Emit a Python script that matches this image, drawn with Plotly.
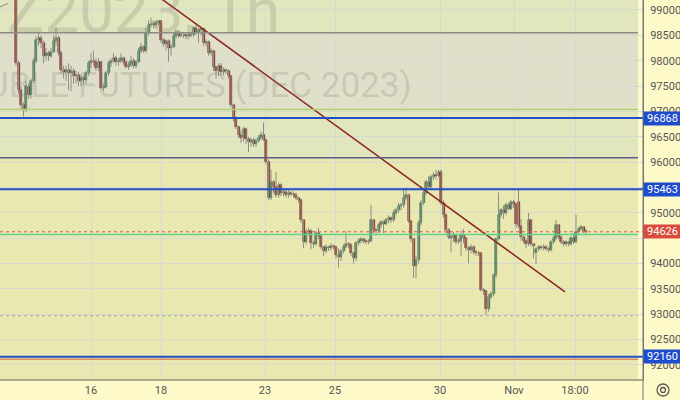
import plotly.graph_objects as go

# ---------------- data (hourly candles) ----------------
opens = [100300, 97950, 97430, 97130, 97050, 97480, 97330, 97600, 98000, 98400,
         98450, 98350, 98100, 98150, 98100, 98180, 98380, 98450, 98150, 97820,
         97780, 97820, 97750, 97800, 97700, 97720, 97600, 97650, 97620, 97750,
         97950, 98000, 97980, 97850, 97980, 97470, 97480, 97750, 97950, 98000,
         98050, 97980, 98000, 98050, 97980, 97880, 97920, 98000, 97900, 97980,
         98200, 98280, 98200, 98550, 98700, 98720, 98700, 98740, 98780, 98400,
         98330, 98380, 98250, 98280, 98480, 98570, 98490, 98510, 98500, 98490,
         98510, 98500, 98640, 98560, 98600, 98620, 98350, 98370, 98160, 98200,
         97870, 97800, 97900, 97780, 97820, 97790, 97700, 97130, 96870, 96700,
         96530, 96480, 96650, 96450, 96400, 96430, 96350, 96420, 96480, 96530,
         96440, 96000, 95300, 95600, 95500, 95350, 95550, 95400, 95420, 95350,
         95400, 95380, 95350, 95300, 95250, 94850, 94420, 94620, 94650, 94400,
         94380, 94600, 94550, 94330, 94250, 94330, 94300, 94350, 94330, 94170,
         94120, 94250, 94330, 94380, 94360, 94200, 94100, 94400, 94450, 94480,
         94440, 94420, 94450, 94860, 94660, 94650, 94760, 94820, 94780, 94860,
         94900, 94850, 95000, 95060, 95130, 95150, 95300, 95350, 94830, 94480,
         93950, 94070, 94800, 95200, 95400, 95600, 95500, 95700, 95750, 95720,
         95800, 95200, 94950, 94660, 94530, 94500, 94560, 94430, 94450, 94560,
         94500, 94300, 94270, 94330, 94220, 94200, 94210, 93480, 93450, 93100,
         93350, 93400, 93770, 94480, 94950, 95050, 95000, 95150, 95080, 95220,
         95180, 95220, 94750, 94520, 94450, 94380, 94850, 94380, 94200, 94280,
         94320, 94300, 94330, 94290, 94260, 94420, 94500, 94760, 94520, 94420,
         94380, 94420, 94380, 94500, 94420, 94620, 94680, 94720, 94640]

highs = [100450, 98000, 97500, 97180, 97600, 97550, 97650, 98050, 98480, 98550,
         98500, 98400, 98250, 98200, 98250, 98500, 98650, 98500, 98200, 97900,
         97900, 97950, 97900, 97850, 97800, 97780, 97720, 97700, 97800, 98000,
         98150, 98200, 98050, 98050, 98000, 97550, 97800, 98000, 98050, 98150,
         98100, 98050, 98150, 98080, 98000, 97980, 98100, 98050, 98020, 98250,
         98350, 98300, 98650, 98800, 98850, 98780, 98800, 98800, 98800, 98450,
         98420, 98420, 98330, 98550, 98620, 98600, 98560, 98550, 98540, 98550,
         98560, 98680, 98700, 98650, 98650, 98650, 98420, 98400, 98250, 98220,
         97900, 97950, 97950, 97870, 97850, 97830, 97720, 97150, 96900, 96720,
         96620, 96700, 96680, 96500, 96480, 96480, 96470, 96530, 96600, 96780,
         96460, 96050, 95850, 95650, 95810, 95600, 95580, 95450, 95450, 95450,
         95430, 95420, 95400, 95320, 95280, 94880, 94680, 94700, 94680, 94450,
         94650, 94700, 94580, 94350, 94380, 94350, 94400, 94380, 94350, 94300,
         94280, 94380, 94640, 94420, 94400, 94230, 94450, 94500, 94520, 94500,
         94470, 94480, 95160, 94880, 94700, 94800, 94860, 94850, 94900, 94950,
         94930, 95050, 95100, 95200, 95200, 95480, 95500, 95380, 94860, 94500,
         94150, 94850, 95250, 95450, 95650, 95720, 95750, 95800, 95850, 95850,
         95850, 95250, 94980, 94700, 94600, 94620, 94580, 94500, 94650, 94680,
         94520, 94350, 94380, 94360, 94260, 94250, 94230, 93520, 93480, 93400,
         93450, 93800, 94520, 95400, 95100, 95150, 95200, 95200, 95250, 95260,
         95200, 95450, 94880, 94560, 94480, 95000, 94870, 94400, 94320, 94360,
         94360, 94380, 94370, 94320, 94460, 94550, 94860, 94780, 94560, 94460,
         94460, 94450, 94540, 94600, 94960, 94720, 94760, 94740, 94680]

lows = [97900, 97350, 97050, 96900, 96980, 97250, 97250, 97550, 97950, 98300,
        98250, 97950, 98000, 98000, 98050, 98150, 98300, 98100, 97750, 97650,
        97600, 97420, 97400, 97550, 97550, 97500, 97500, 97520, 97550, 97700,
        97850, 97900, 97800, 97800, 97450, 97400, 97450, 97700, 97880, 97950,
        97900, 97900, 97950, 97920, 97850, 97820, 97880, 97850, 97850, 97950,
        98150, 98150, 98150, 98500, 98650, 98640, 98660, 98700, 98350, 98280,
        98200, 97980, 98100, 98250, 98430, 98450, 98460, 98450, 98450, 98460,
        98470, 98470, 98520, 98350, 98500, 98300, 98280, 98100, 98100, 97800,
        97650, 97700, 97700, 97720, 97740, 97650, 97080, 96800, 96650, 96480,
        96380, 96400, 96350, 96200, 96300, 96300, 96300, 96380, 96450, 96420,
        95950, 95250, 95250, 95400, 95300, 95300, 95330, 95330, 95300, 95300,
        95330, 95300, 95250, 95200, 94800, 94300, 94380, 94550, 94280, 94300,
        94350, 94480, 94280, 94150, 94200, 94250, 94250, 94280, 94100, 93920,
        94050, 94200, 94300, 94300, 94150, 94000, 94050, 94350, 94400, 94400,
        94380, 94380, 94420, 94600, 94560, 94600, 94700, 94600, 94750, 94800,
        94800, 94820, 94950, 95000, 95050, 95100, 95250, 94800, 94420, 93720,
        93700, 94000, 94750, 95150, 95350, 95450, 95480, 95650, 95650, 95700,
        95150, 94900, 94600, 94480, 94220, 94420, 94380, 94380, 94150, 94400,
        94250, 94000, 94200, 94180, 94150, 94150, 93450, 93380, 92990, 93050,
        93300, 93350, 93720, 94450, 94900, 94880, 94950, 95050, 95050, 95100,
        94700, 94700, 94450, 94400, 94300, 94350, 94330, 94100, 93990, 94240,
        94260, 94260, 94250, 94220, 94230, 94380, 94460, 94480, 94380, 94340,
        94340, 94340, 94350, 94380, 94400, 94580, 94650, 94600, 94560]

closes = [97950, 97430, 97130, 97030, 97500, 97330, 97600, 98000, 98400, 98450,
          98350, 98100, 98150, 98100, 98180, 98380, 98450, 98150, 97820, 97780,
          97820, 97750, 97800, 97700, 97720, 97600, 97650, 97620, 97750, 97950,
          98000, 97980, 97850, 97980, 97470, 97480, 97750, 97950, 98000, 98050,
          97980, 98000, 98050, 97980, 97880, 97920, 98000, 97900, 97980, 98200,
          98280, 98200, 98550, 98700, 98720, 98700, 98740, 98780, 98400, 98330,
          98380, 98250, 98280, 98480, 98570, 98490, 98510, 98500, 98490, 98510,
          98500, 98640, 98560, 98600, 98620, 98350, 98370, 98160, 98200, 97870,
          97800, 97900, 97780, 97820, 97790, 97700, 97130, 96870, 96700, 96530,
          96480, 96650, 96450, 96400, 96430, 96350, 96420, 96480, 96530, 96440,
          96000, 95300, 95600, 95500, 95350, 95550, 95400, 95420, 95350, 95400,
          95380, 95350, 95300, 95250, 94850, 94420, 94620, 94650, 94400, 94380,
          94600, 94550, 94330, 94250, 94330, 94300, 94350, 94330, 94170, 94120,
          94250, 94330, 94380, 94360, 94200, 94100, 94400, 94450, 94480, 94440,
          94420, 94450, 94860, 94660, 94650, 94760, 94820, 94780, 94860, 94900,
          94850, 95000, 95060, 95130, 95150, 95300, 95350, 94830, 94480, 93950,
          94070, 94800, 95200, 95400, 95600, 95500, 95700, 95750, 95720, 95800,
          95200, 94950, 94660, 94530, 94500, 94560, 94430, 94450, 94560, 94500,
          94300, 94270, 94330, 94220, 94200, 94210, 93480, 93450, 93100, 93350,
          93400, 93770, 94480, 94950, 95050, 95000, 95150, 95080, 95220, 95180,
          94770, 94750, 94520, 94450, 94380, 94850, 94380, 94350, 94280, 94320,
          94300, 94330, 94290, 94260, 94420, 94500, 94760, 94520, 94420, 94380,
          94420, 94380, 94500, 94420, 94620, 94680, 94720, 94640, 94626]

x_tick_vals = [30, 58, 99.6, 127.6, 169.6, 199.2, 223.6]
x_tick_text = ["16", "18", "23", "25", "30", "Nov", "18:00"]
y_tick_vals = [92000, 92500, 93000, 93500, 94000, 94500, 95000, 95500,
               96000, 96500, 97000, 97500, 98000, 98500, 99000]
# tick labels fully covered by price labels in the reference are left blank
y_tick_text = ["92000", "92500", "93000", "93500", "94000", "", "95000", "",
               "96000", "96500", "97000", "97500", "98000", "98500", "99000"]

# drawn levels
blue_levels = [96868, 95463, 92160]
last_price = 94626
grey_level = 98550
lightgreen_level = 97040
zone_edge_level = 96087
mint_level = 94575
dotted_level = 92970
red_level = 92115

trend_x = [53.6, 219.6]
trend_y = [99384, 93440]
dash_x = [-6.4, 2.0]
dash_y = [99065, 99230]

# ---------------- figure ----------------
X_RANGE = [-6.4, 250.8]
Y_RANGE = [91723, 99197]
PANE_END = 638 / 643

UP_FILL, UP_LINE = "#3f8a58", "#27603b"
DN_FILL, DN_LINE = "#a8302a", "#641a15"

idx = list(range(len(closes)))

wx, wy = [], []
for i, (h, l) in enumerate(zip(highs, lows)):
    wx += [i, i, None]
    wy += [l, h, None]

body_base = [min(o, c) for o, c in zip(opens, closes)]
body_h = [max(abs(c - o), 12) for o, c in zip(opens, closes)]
fill = [UP_FILL if c >= o else DN_FILL for o, c in zip(opens, closes)]
edge = [UP_LINE if c >= o else DN_LINE for o, c in zip(opens, closes)]

fig = go.Figure()
fig.add_trace(go.Scatter(x=wx, y=wy, mode="lines",
                         line=dict(color="#8e8e84", width=1), hoverinfo="skip"))
fig.add_trace(go.Bar(x=idx, y=body_h, base=body_base, width=0.8,
                     marker=dict(color=fill, line=dict(color=edge, width=0.5)),
                     hoverinfo="skip"))
fig.add_trace(go.Scatter(x=trend_x, y=trend_y, mode="lines",
                         line=dict(color="#8c2424", width=1.5), hoverinfo="skip"))
fig.add_trace(go.Scatter(x=dash_x, y=dash_y, mode="lines",
                         line=dict(color="#a6a69c", width=1.5, dash="dash"),
                         hoverinfo="skip"))

shapes = []
# background zones
shapes.append(dict(type="rect", xref="paper", yref="y", x0=0, x1=PANE_END,
                   y0=Y_RANGE[0] - 500, y1=zone_edge_level,
                   fillcolor="#e9e8b1", line=dict(width=0), layer="below"))
shapes.append(dict(type="rect", xref="paper", yref="y", x0=0, x1=PANE_END,
                   y0=zone_edge_level, y1=Y_RANGE[1] + 500,
                   fillcolor="#e1e6bf", line=dict(width=0), layer="below"))
shapes.append(dict(type="rect", xref="paper", yref="y", x0=0, x1=PANE_END,
                   y0=lightgreen_level, y1=grey_level,
                   fillcolor="#dfdfca", line=dict(width=0), layer="below"))


def hline(level, color, width, dash="solid", x1=PANE_END):
    return dict(type="line", xref="paper", yref="y", x0=0, x1=x1,
                y0=level, y1=level, line=dict(color=color, width=width, dash=dash),
                layer="above")


shapes.append(hline(grey_level, "#8e8c82", 1.5))
shapes.append(hline(lightgreen_level, "#b2d36c", 1.5))
shapes.append(hline(zone_edge_level, "#585d86", 1.5))
shapes.append(hline(mint_level, "#62d192", 1.5))
shapes.append(hline(dotted_level, "#a9a893", 1, "dot"))
shapes.append(hline(red_level, "#d65a3c", 1))
shapes.append(hline(last_price, "#e0584a", 1, "dot", 1))
for lv in blue_levels:
    shapes.append(hline(lv, "#2150c6", 2, "solid", 1))

# price axis separator down to the bottom
shapes.append(dict(type="line", xref="paper", yref="paper", x0=1, x1=1,
                   y0=-21 / 379, y1=1, line=dict(color="#777777", width=1)))
# settings icon
gx, gy = 663 / 643, (379 - 390) / 379
for r in (6, 2.5):
    shapes.append(dict(type="circle", xref="paper", yref="paper",
                       xsizemode="pixel", ysizemode="pixel", xanchor=gx, yanchor=gy,
                       x0=-r, x1=r, y0=-r, y1=r,
                       line=dict(color="#5a5a5a", width=1.3)))

annotations = []
# watermark
annotations.append(dict(text="Z2023, 1h", xref="paper", yref="paper",
                        x=282 / 643, y=(379 - 10) / 379, xanchor="right",
                        yanchor="middle", showarrow=False,
                        font=dict(family="Roboto", size=62,
                                  color="rgba(120,120,105,0.22)")))
annotations.append(dict(text="UBLE FUTURES (DEC 2023)", xref="paper", yref="paper",
                        x=414 / 643, y=(379 - 86) / 379, xanchor="right",
                        yanchor="middle", showarrow=False,
                        font=dict(family="Roboto", size=35,
                                  color="rgba(120,120,105,0.22)")))

# price labels
for lv in blue_levels + [last_price]:
    annotations.append(dict(text=str(lv), xref="paper", yref="y", x=1, y=lv,
                            xanchor="left", yanchor="middle", showarrow=False,
                            bgcolor="#d94b3c" if lv == last_price else "#1f4ccc",
                            width=37, height=13, borderpad=0, align="center",
                            font=dict(family="Roboto", size=11, color="#ffffff")))

fig.update_layout(
    width=680, height=400,
    margin=dict(l=0, r=37, t=0, b=21, autoexpand=False),
    paper_bgcolor="#fdf9c9", plot_bgcolor="#fdf9c9",
    showlegend=False, bargap=0,
    shapes=shapes, annotations=annotations,
    xaxis=dict(range=X_RANGE, tickvals=x_tick_vals, ticktext=x_tick_text,
               showgrid=True, gridcolor="#d6dbd2", gridwidth=1, zeroline=False,
               showline=True, linecolor="#aba88e", linewidth=2, ticks="",
               automargin=False,
               tickfont=dict(family="Roboto", size=11, color="#555555"),
               fixedrange=True),
    yaxis=dict(range=Y_RANGE, side="right", tickvals=y_tick_vals,
               ticktext=y_tick_text, automargin=False,
               showgrid=True, gridcolor="#d6dbd2", gridwidth=1, zeroline=False,
               showline=True, linecolor="#777777", linewidth=1, ticks="",
               ticklabelstandoff=4,
               tickfont=dict(family="Roboto", size=11, color="#555555"),
               fixedrange=True),
)

fig.write_html("out.html", config={"displayModeBar": False},
               post_script="document.body.style.margin='0px';"
                           "document.body.style.padding='0px';"
                           "document.body.style.overflow='hidden';")
